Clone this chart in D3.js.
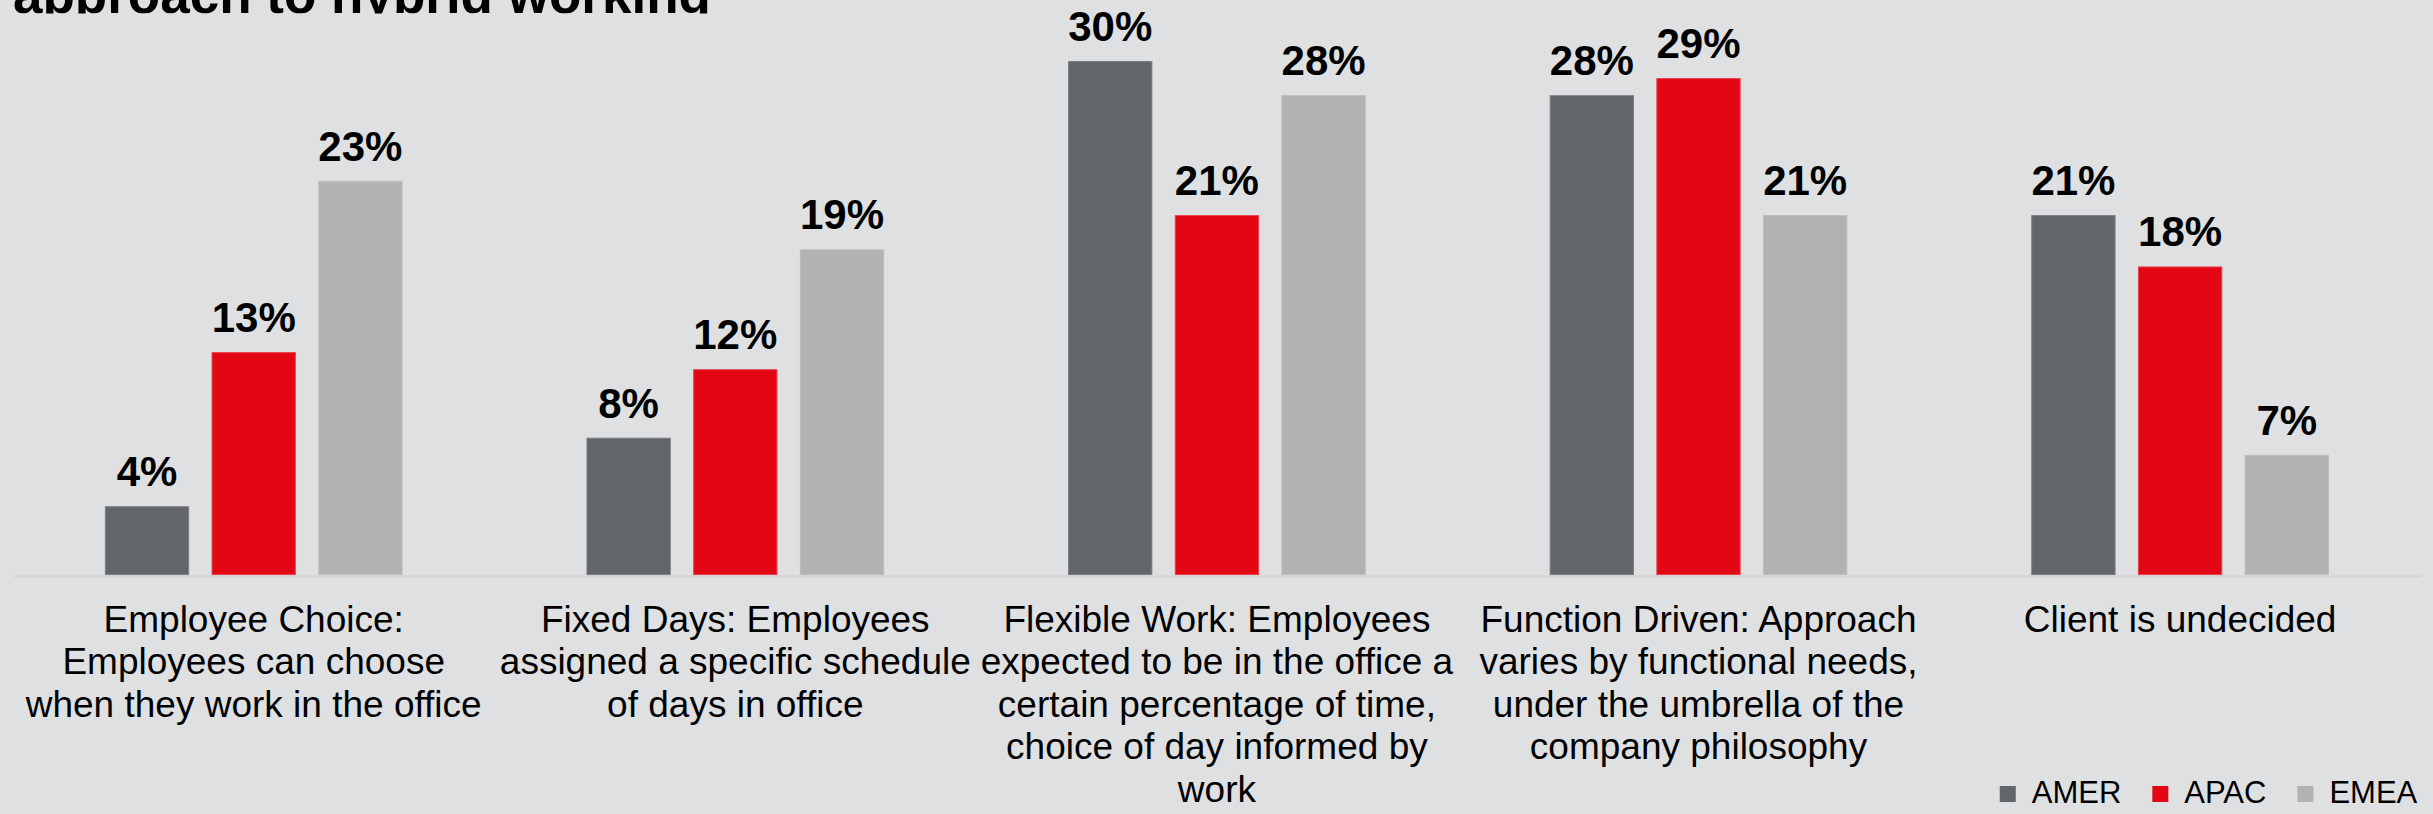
<!DOCTYPE html>
<html>
<head>
<meta charset="utf-8">
<script src="https://cdn.jsdelivr.net/npm/d3@7/dist/d3.min.js"></script>
<style>
  html, body { margin: 0; padding: 0; background: #dfe0e2; }
  svg { display: block; }
  text { font-family: "Liberation Sans", Arial, Helvetica, sans-serif; fill: #000; }
</style>
</head>
<body>
<svg id="chart" width="2433" height="814"></svg>
<script>
// Hybrid-working approach by region (% of clients)
const categories = [
  "Employee Choice:\nEmployees can choose\nwhen they work in the office",
  "Fixed Days: Employees\nassigned a specific schedule\nof days in office",
  "Flexible Work: Employees\nexpected to be in the office a\ncertain percentage of time,\nchoice of day informed by\nwork",
  "Function Driven: Approach\nvaries by functional needs,\nunder the umbrella of the\ncompany philosophy",
  "Client is undecided"
];
const seriesNames = ["AMER", "APAC", "EMEA"];
const amer = [4, 8, 30, 28, 21];
const apac = [13, 12, 21, 29, 18];
const emea = [23, 19, 28, 21, 7];
const titleText = "approach to hybrid working";

const seriesValues = [amer, apac, emea];
const colors = { AMER: "#626569", APAC: "#e30613", EMEA: "#b1b2b4" };
const edges = { AMER: "#7b7e83", APAC: "#e8404c", EMEA: "#bbbcbe" };
const bg = "#dfe0e2";

const svg = d3.select("#chart");
svg.append("rect").attr("width", 2433).attr("height", 814).attr("fill", bg);

// Title sits behind the chart panel, only its lower edge shows
svg.append("text")
  .attr("x", 13).attr("y", 13)
  .attr("font-size", 53).attr("font-weight", "bold")
  .text(titleText);
svg.append("rect").attr("x", 0).attr("y", 13.5).attr("width", 2433).attr("height", 814 - 13.5).attr("fill", bg);

const baseY = 574.7;
const x0 = d3.scaleBand().domain(d3.range(categories.length)).range([12.9, 2420.9]).padding(0);
const x1 = d3.scaleBand().domain(seriesNames).range([0, x0.bandwidth()])
  .paddingInner(0.21).paddingOuter(0.862);
const y = d3.scaleLinear().domain([0, 33.56]).range([baseY, 0]);

const rows = categories.map((c, i) => ({
  i, cells: seriesNames.map((s, k) => ({ s, v: seriesValues[k][i] }))
}));

const groups = svg.append("g").selectAll("g").data(rows).join("g")
  .attr("transform", d => `translate(${x0(d.i)},0)`);

groups.selectAll("rect").data(d => d.cells).join("rect")
  .attr("x", d => x1(d.s) + 0.5)
  .attr("y", d => y(d.v) + 0.5)
  .attr("width", x1.bandwidth() - 1)
  .attr("height", d => baseY - y(d.v) - 0.5)
  .attr("fill", d => colors[d.s])
  .attr("stroke", d => edges[d.s])
  .attr("stroke-width", 1);

groups.selectAll("text.val").data(d => d.cells).join("text")
  .attr("class", "val")
  .attr("x", d => x1(d.s) + x1.bandwidth() / 2)
  .attr("y", d => y(d.v) - 20)
  .attr("text-anchor", "middle")
  .attr("font-size", 42).attr("font-weight", "bold")
  .text(d => d3.format(".0f")(d.v) + "%");

// Category axis
const axis = svg.append("g")
  .attr("transform", `translate(0,${baseY + 1})`)
  .call(d3.axisBottom(x0).tickSize(0).tickSizeOuter(0).tickFormat(""));
axis.select(".domain").attr("stroke", "#d3d4d6").attr("stroke-width", 2);
axis.selectAll(".tick text").remove();
axis.selectAll(".tick").each(function(i) {
  const t = d3.select(this).append("text")
    .attr("text-anchor", "middle")
    .attr("font-size", 37)
    .attr("y", 56);
  categories[i].split("\n").forEach((line, j) => {
    t.append("tspan").attr("x", 0).attr("dy", j === 0 ? 0 : 42.5).text(line);
  });
});

// Legend, right-aligned along the bottom edge
const legend = svg.append("g");
const items = legend.selectAll("g").data(seriesNames).join("g");
items.append("rect").attr("width", 16).attr("height", 16).attr("y", 786)
  .attr("fill", d => colors[d]);
items.append("text").attr("y", 803.3).attr("font-size", 31).text(d => d);
let xRight = 2417.3;
const nodes = items.nodes().reverse();
nodes.forEach(n => {
  const g = d3.select(n);
  const w = g.select("text").node().getComputedTextLength();
  const tx = xRight - w;
  g.select("text").attr("x", tx);
  g.select("rect").attr("x", tx - 32);
  xRight = tx - 32 - 31;
});
</script>
</body>
</html>
